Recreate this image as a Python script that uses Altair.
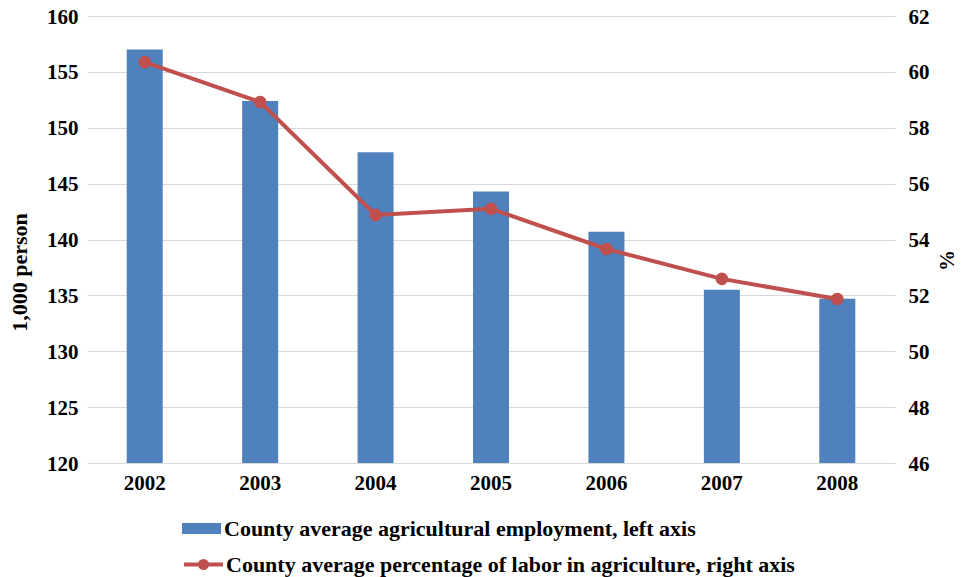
import altair as alt
import pandas as pd

years = ["2002", "2003", "2004", "2005", "2006", "2007", "2008"]
employment = [157.0, 152.4, 147.8, 144.3, 140.7, 135.5, 134.7]
labor_pct = [60.35, 58.92, 54.88, 55.10, 53.66, 52.59, 51.87]
bar_label = "County average agricultural employment, left axis"
line_label = "County average percentage of labor in agriculture, right axis"
left_ticks = [120, 125, 130, 135, 140, 145, 150, 155, 160]
right_ticks = [46, 48, 50, 52, 54, 56, 58, 60, 62]

df = pd.DataFrame({"year": years, "emp": employment, "pct": labor_pct,
                   "s1": bar_label, "s2": line_label})

FONT = "Liberation Serif"
FS = 21
LFS = 22
BLUE = "#4f81bd"
RED = "#c0504d"

x = alt.X("year:O", title=None,
          scale=alt.Scale(paddingInner=0, paddingOuter=0),
          axis=alt.Axis(labelAngle=0, labelFontSize=FS, labelFont=FONT,
                        labelFontWeight="bold", labelColor="black",
                        ticks=False, domain=False, labelPadding=9))

legend_common = dict(orient="none", title=None, labelFont=FONT, labelFontSize=LFS,
                     labelFontWeight="bold", labelColor="black", symbolSize=1521,
                     labelLimit=900)

bars = alt.Chart(df).mark_bar(size=36, clip=True).encode(
    x=x,
    y=alt.Y("emp:Q", scale=alt.Scale(domain=[120, 160], zero=False, nice=False),
            axis=alt.Axis(title="1,000 person", values=left_ticks, grid=True,
                          gridColor="#d9d9d9", gridWidth=1, domain=False, ticks=False,
                          labelFont=FONT, labelFontSize=FS, labelFontWeight="bold",
                          labelColor="black", labelPadding=9, labelOffset=1,
                          titleFont=FONT, titleFontSize=LFS, titleFontWeight="bold",
                          titleColor="black", titleX=-68, titleY=256,
                          titleAngle=-90, titleAlign="center", titleBaseline="middle")),
    fill=alt.Fill("s1:N", scale=alt.Scale(domain=[bar_label], range=[BLUE]),
                  legend=alt.Legend(legendX=95, legendY=493, labelOffset=3,
                                    symbolType="M-1,-0.28H1V0.28H-1Z",
                                    symbolStrokeWidth=0, **legend_common)),
)

line = alt.Chart(df).mark_line(strokeWidth=4, point=alt.OverlayMarkDef(
    filled=True, size=113, color=RED)).encode(
    x=x,
    y=alt.Y("pct:Q", scale=alt.Scale(domain=[46, 62], zero=False, nice=False),
            axis=alt.Axis(orient="right", title="%", values=right_ticks, grid=False,
                          domain=False, ticks=False,
                          labelFont=FONT, labelFontSize=FS, labelFontWeight="bold",
                          labelColor="black", labelPadding=13, labelOffset=1,
                          titleFont=FONT, titleFontSize=FS, titleFontWeight="bold",
                          titleColor="black", titleX=52, titleY=244,
                          titleAngle=-90, titleAlign="center", titleBaseline="middle")),
    stroke=alt.Stroke("s2:N", scale=alt.Scale(domain=[line_label], range=[RED]),
                      legend=alt.Legend(legendX=95, legendY=527, labelOffset=1,
                                        symbolType="M-1,0H1M0.18,0A0.18,0.18 0 1,1 -0.18,0A0.18,0.18 0 1,1 0.18,0Z",
                                        symbolStrokeWidth=4, symbolFillColor=RED,
                                        **legend_common)),
)

chart = alt.layer(bars, line).resolve_scale(y="independent").properties(
    width=808, height=447,
    autosize=alt.AutoSizeParams(type="none"),
    padding={"left": 79, "top": 8, "right": 63, "bottom": 114},
).configure_view(stroke=None)

chart.save("out.html", embed_options={"renderer": "svg", "actions": False})
